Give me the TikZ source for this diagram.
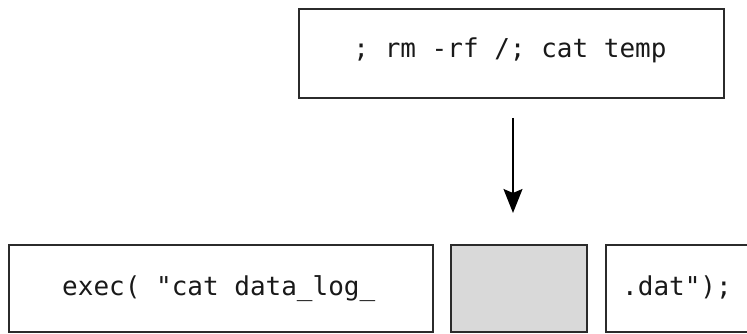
\documentclass[tikz,border=0pt]{standalone}
\usepackage{fontspec}
\newfontfamily\codefont{DejaVu Sans Mono}
\usetikzlibrary{arrows.meta}
\definecolor{boxgray}{HTML}{D9D9D9}
\definecolor{linecol}{HTML}{2B2B2B}
\tikzset{
  box/.style={draw=linecol, line width=1.6pt, rectangle, inner sep=0pt},
  code/.style={font=\codefont\fontsize{26}{30}\selectfont, text=black!90, inner sep=0pt, anchor=base west},
  flow/.style={draw=black, line width=2pt, -{Stealth[width=19pt,length=24pt,inset=4pt]}}
}
\begin{document}
\begin{tikzpicture}[x=1pt,y=-1pt]
\useasboundingbox (0,0) rectangle (747,334);
% top box
\node[box, minimum width=425pt, minimum height=89pt] (inj) at (511.5,53.5) {};
\node[code, anchor=base] (injtxt) at (510,57.5) {; rm -rf /; cat temp};
% bottom boxes
\node[box, minimum width=424pt, minimum height=87pt] (left) at (221,288.5) {};
\node[code] (lefttxt) at (62,295) {exec( "cat data\_log\_};
\node[box, fill=boxgray, minimum width=136pt, minimum height=87pt] (slot) at (519,288.5) {};
\node[box, minimum width=200pt, minimum height=87pt] (right) at (706,288.5) {};
\node[code] (righttxt) at (622,295) {.dat");};
% arrow
\coordinate (astart) at (513,118);
\coordinate (aend) at (513,213);
\draw[flow] (astart) -- (aend);
\end{tikzpicture}
\end{document}
